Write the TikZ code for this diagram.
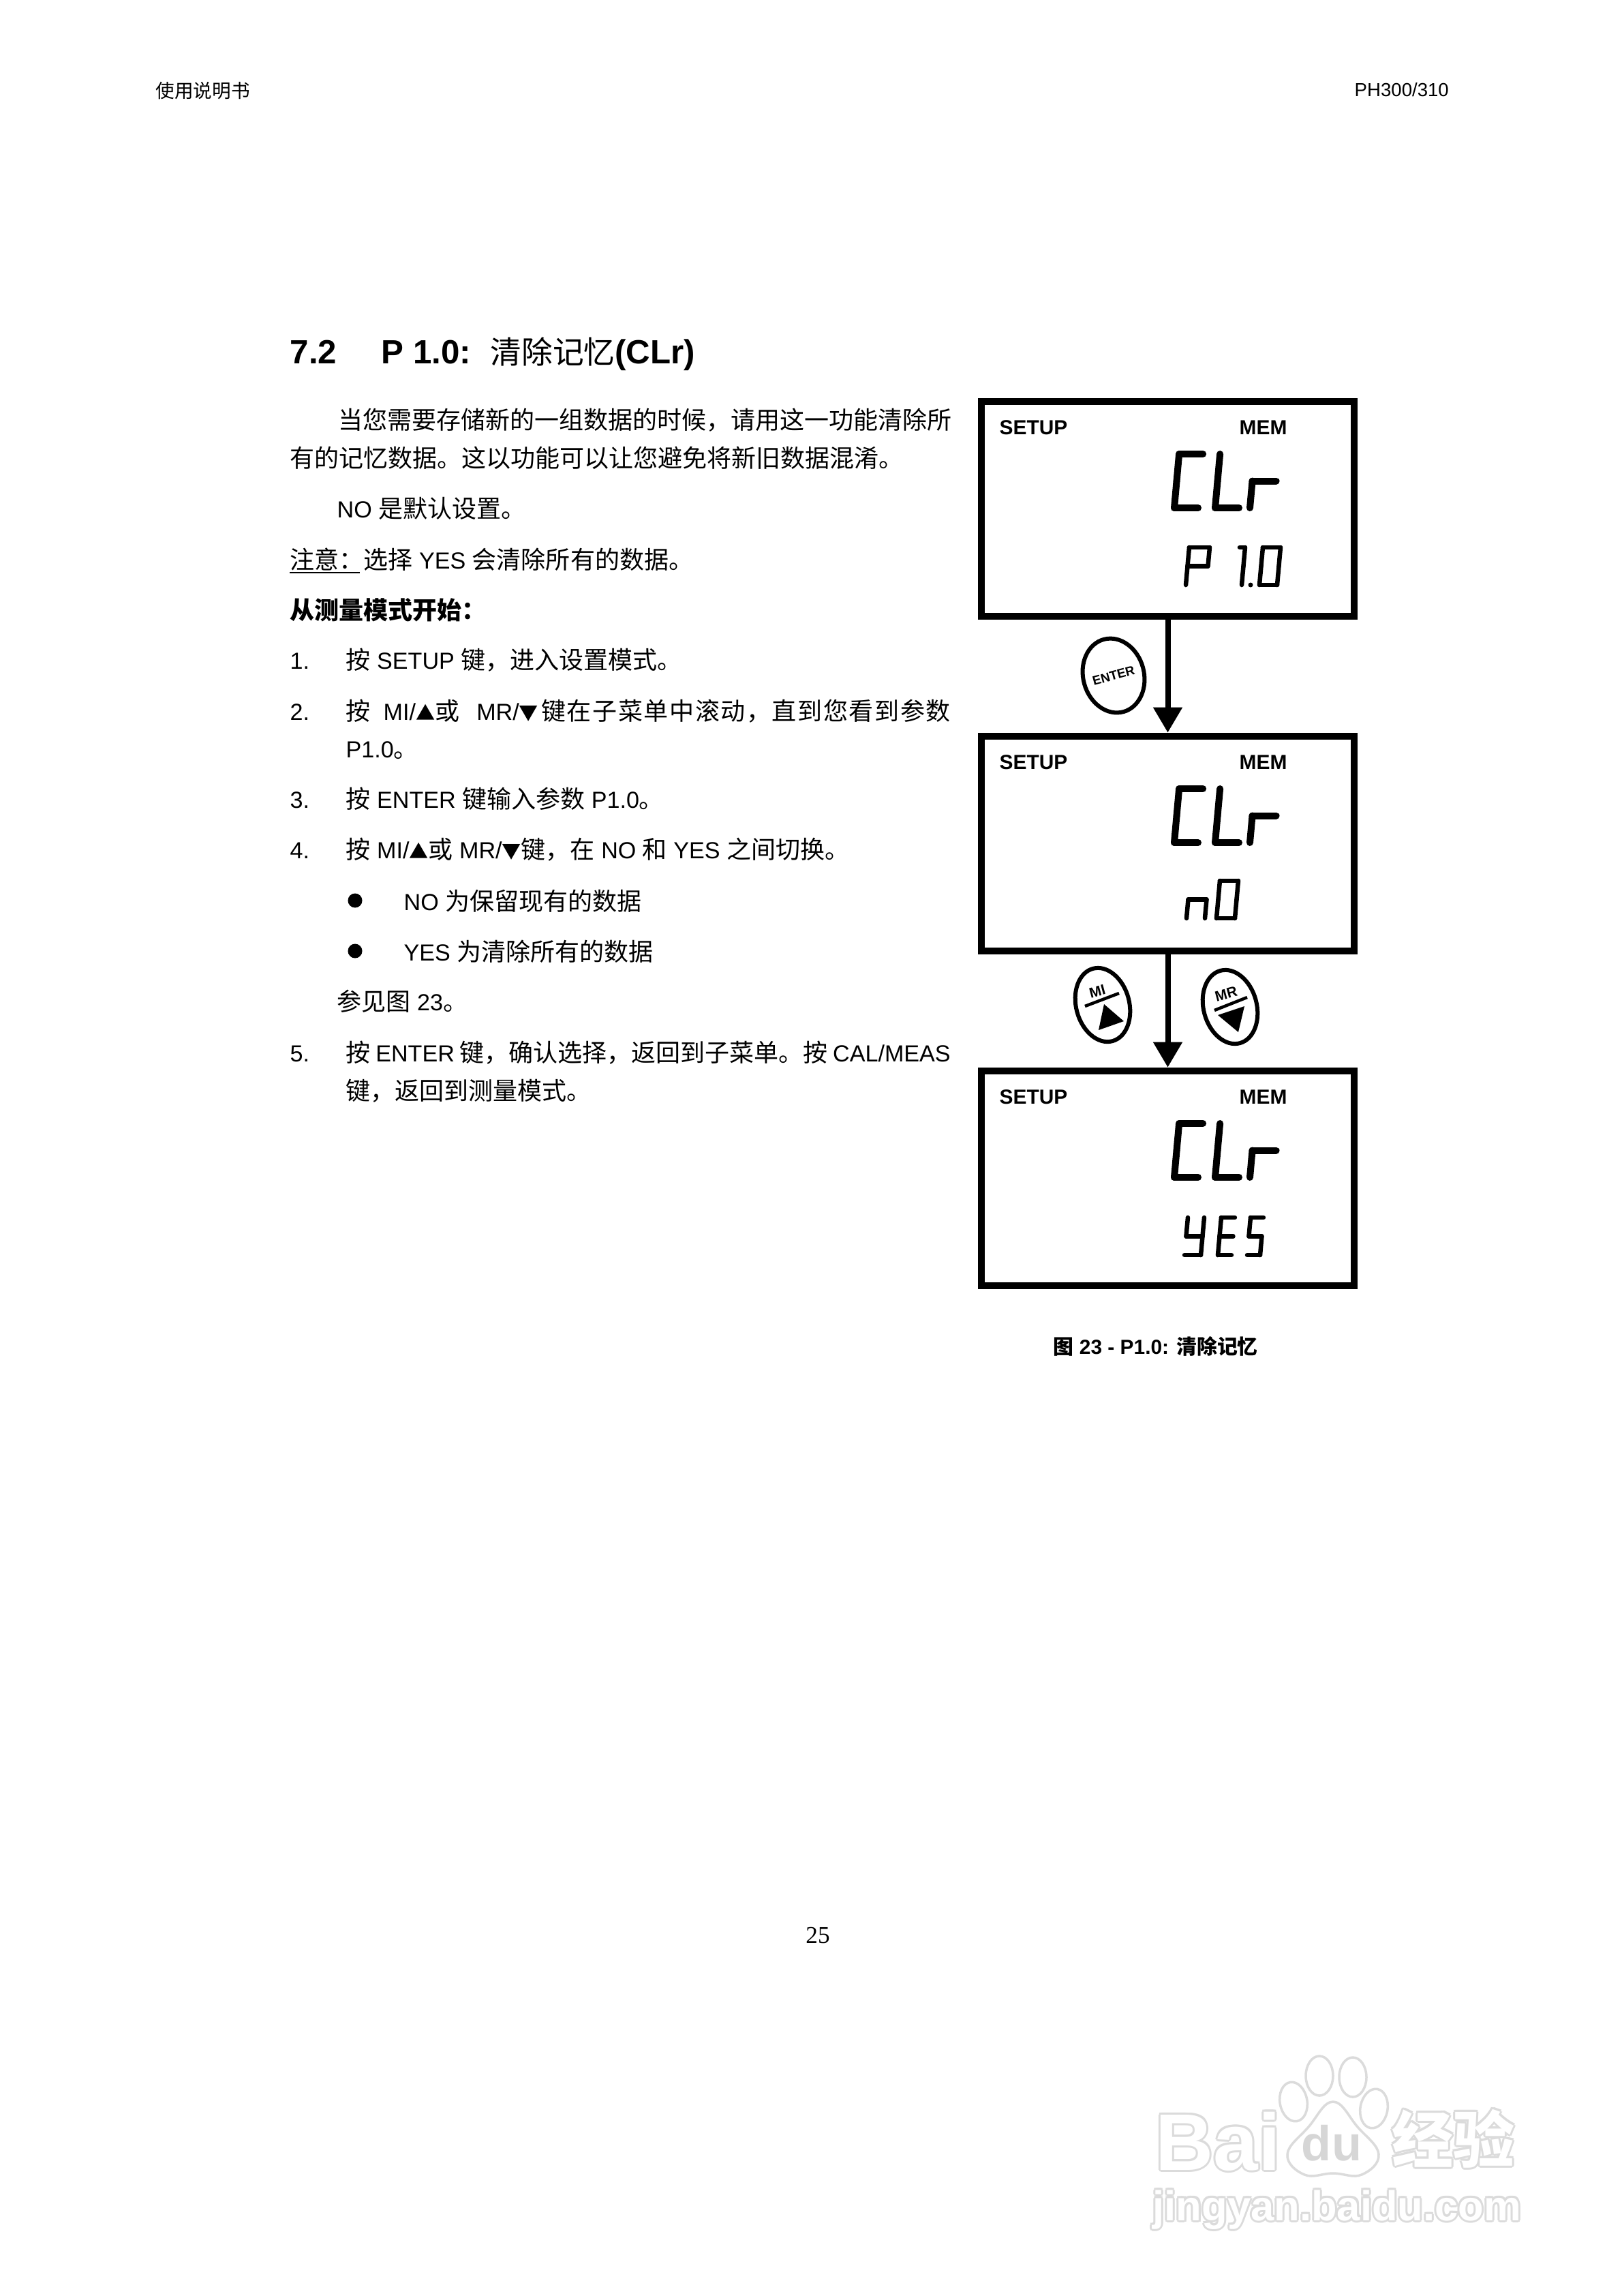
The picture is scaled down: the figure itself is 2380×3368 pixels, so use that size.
\documentclass[tikz,border=0pt]{standalone}
\usepackage{fontspec}
\setmainfont{Liberation Sans}
\newfontfamily\cjk{Noto Sans CJK SC}
\newfontfamily\cjkwide[LetterSpace=4.5]{Noto Sans CJK SC}
\newfontfamily\numfont{Liberation Serif}
\usetikzlibrary{calc}
\usetikzlibrary{arrows.meta}
\usetikzlibrary{shapes.geometric}
\def\zhsize{10.24}
\newcommand{\zh}[1]{{\cjk\fontsize{\zhsize}{12}\selectfont #1}}
\newcommand{\zhw}[1]{{\cjkwide\fontsize{\zhsize}{12}\selectfont #1}}
\newcommand{\upt}{{\cjk\fontsize{8}{8}\selectfont ▲}}
\newcommand{\dnt}{{\cjk\fontsize{8}{8}\selectfont ▼}}
\newcommand{\justline}[1]{\hbox to 8.865cm{#1}}
\tikzset{bodytext/.style={anchor=base west,inner sep=0pt,font=\fontsize{9.7}{12}\selectfont}}
\tikzset{titletext/.style={anchor=base west,inner sep=0pt,font=\def\zhsize{13}\fontsize{14}{16}\selectfont\bfseries}}
\tikzset{headtext/.style={anchor=base west,inner sep=0pt,font=\def\zhsize{7.85}\fontsize{7.85}{9}\selectfont}}
\tikzset{lcdtext/.style={anchor=base west,inner sep=0pt,font=\fontsize{8.5}{10}\selectfont\bfseries}}
\tikzset{lcdbox/.style={rectangle,draw=black,line width=0.105cm,minimum width=5.47cm,minimum height=3.15cm,inner sep=0pt}}
\tikzset{lcdseg/.style={line cap=round,line join=round,draw=black}}
\tikzset{flowarrow/.style={line width=0.08cm,-{Triangle[width=0.41cm,length=0.37cm]}}}
\tikzset{keybtn/.style={ellipse,draw=black,line width=0.06cm,minimum width=0.78cm,minimum height=1.1cm,inner sep=0pt,rotate=15}}
\tikzset{keytext/.style={inner sep=0pt,rotate=15,font=\fontsize{6}{7}\selectfont\bfseries}}
\tikzset{bulletdot/.style={circle,fill=black,inner sep=0pt,minimum size=0.21cm}}
\tikzset{wmtext/.style={anchor=base west,inner sep=0pt}}
\tikzset{wmshape/.style={draw=black!14,line width=0.035cm,fill=white}}
\def\segC{tl/tr,tl/ml,ml/bl,bl/br}
\def\segL{tl/ml,ml/bl,bl/br}
\def\segr{ml/mr,ml/bl}
\def\segP{tl/tr,tr/mr,ml/mr,tl/ml,ml/bl}
\def\segone{tl/tr,tr/mr,mr/br}
\def\segzero{tl/tr,tr/mr,mr/br,bl/br,ml/bl,tl/ml}
\def\segn{ml/mr,ml/bl,mr/br}
\def\segY{tl/ml,tr/mr,ml/mr,mr/br,bl/br}
\def\segE{tl/tr,tl/ml,ml/mr,ml/bl,bl/br}
\def\segS{tl/tr,tl/ml,ml/mr,mr/br,bl/br}
% x, y of the lower left corner, width, height, stroke, segments
\newcommand{\lcdchar}[6]{
 \begin{scope}[shift={(#1,#2)},xslant=0.09]
  \coordinate (tl) at (0,-#4);
  \coordinate (tr) at (#3,-#4);
  \coordinate (ml) at (0,-0.5*#4);
  \coordinate (mr) at (#3,-0.5*#4);
  \coordinate (bl) at (0,0);
  \coordinate (br) at (#3,0);
  \foreach \p/\q in #6
   {
   \draw[lcdseg,line width=#5*0.01cm] (\p) -- (\q);
   }
 \end{scope}
}
% top of the box
\newcommand{\lcdhead}[1]{
 \node[lcdbox] (lcd#1) at (1713.5,#1+162.5) {};
 \node[lcdtext] (setup#1) at (1466,#1+53) {SETUP};
 \node[lcdtext] (mem#1) at (1818,#1+53) {MEM};
 \lcdchar{1723}{#1+161}{35}{79}{10}{\segC}
 \lcdchar{1783}{#1+161}{35}{79}{10}{\segL}
 \lcdchar{1834}{#1+161}{35}{79}{10}{\segr}
}
% ring of grey copies with a white copy on top
\newcommand{\wmark}[5]{
 \foreach \ang in {0,45,...,315}
  {
  \pgfmathsetmacro{\x}{#2+3*cos(\ang)}
  \pgfmathsetmacro{\y}{#3+3*sin(\ang)}
  \node[wmtext,text=black!14,font=#4] (#1\ang) at (\x,\y) {#5};
  }
 \node[wmtext,text=white,font=#4] (#1) at (#2,#3) {#5};
}

\begin{document}
\begin{tikzpicture}[x=0.01cm,y=-0.01cm]
\useasboundingbox (0,0) rectangle (2380,3368);
\fill[white] (0,0) rectangle (2380,3368);

% page head and number
\node[headtext] (headleft) at (228,143) {\zh{使用说明书}};
\node[headtext] (headright) at (1987,141) {PH300/310};
\node[anchor=base,inner sep=0pt,font=\fontsize{10}{12}\numfont] (pagenum) at (1200,2850) {25};

% title
\node[titletext] (secnum) at (425,533) {7.2};
\node[titletext] (sectitle) at (559,533) {P 1.0:};
\node[titletext] (secname) at (719,533) {\zh{\mdseries 清除记忆}(CLr)};

% text column
\node[bodytext] (intro1) at (496,629) {\zh{当您需要存储新的一组数据的时候，请用这一功能清除所}};
\node[bodytext] (intro2) at (425,685) {\zh{有的记忆数据。这以功能可以让您避免将新旧数据混淆。}};
\node[bodytext] (nodefault) at (494,759) {NO \zh{是默认设置。}};
\node[bodytext] (note) at (425,834) {\zh{注意：选择} YES \zh{会清除所有的数据。}};
\coordinate (noteL) at (425,840);
\coordinate (noteR) at (528,840);
\draw[line width=0.025cm] (noteL) -- (noteR);
\node[bodytext,font=\fontsize{10.24}{12}\selectfont\bfseries] (fromm) at (425,908) {\zh{从测量模式开始：}};

\node[bodytext] (n1) at (425,981) {1.};
\node[bodytext] (s1) at (507,981) {\zh{按} SETUP \zh{键，进入设置模式。}};
\node[bodytext] (n2) at (425,1056) {2.};
\node[bodytext] (s2) at (507,1056) {\justline{\zh{按}\kern0.19cm MI/\upt\zh{或}\kern0.25cm MR/\dnt\hfil\zhw{键在子菜单中滚动，直到您看到参数}}};
\node[bodytext] (s2b) at (507,1111) {P1.0\zh{。}};
\node[bodytext] (n3) at (425,1185) {3.};
\node[bodytext] (s3) at (507,1185) {\zh{按} ENTER \zh{键输入参数} P1.0\zh{。}};
\node[bodytext] (n4) at (425,1259) {4.};
\node[bodytext] (s4) at (507,1259) {\zh{按} MI/\upt\zh{或} MR/\dnt\zh{键，在} NO \zh{和} YES \zh{之间切换。}};
\node[bulletdot] (b1) at (521,1321) {};
\node[bodytext] (s4a) at (592,1335) {NO \zh{为保留现有的数据}};
\node[bulletdot] (b2) at (521,1395) {};
\node[bodytext] (s4b) at (592,1409) {YES \zh{为清除所有的数据}};
\node[bodytext] (seefig) at (494,1482) {\zh{参见图} 23\zh{。}};
\node[bodytext] (n5) at (425,1557) {5.};
\node[bodytext] (s5) at (507,1557) {\justline{\zh{按} ENTER \zh{键，确认选择，返回到子菜单。按} CAL/MEAS}};
\node[bodytext] (s5b) at (507,1613) {\zh{键，返回到测量模式。}};

% displays
\lcdhead{584}
\lcdchar{1740}{858}{30}{55}{6.5}{\segP}
\lcdchar{1814}{858}{8}{55}{6.5}{\segone}
\lcdchar{1848}{858}{26}{55}{6.5}{\segzero}
\fill (1835,858) circle (0.035cm);

\lcdhead{1075}
\lcdchar{1741}{1347}{27}{55}{6.5}{\segn}
\lcdchar{1785}{1347}{27}{55}{6.5}{\segzero}

\lcdhead{1566}
\lcdchar{1738}{1841}{24}{55}{6.5}{\segY}
\lcdchar{1787}{1841}{20}{55}{6.5}{\segE}
\lcdchar{1830}{1841}{19}{55}{6.5}{\segS}

\draw[flowarrow] (lcd584) -- (lcd1075);
\draw[flowarrow] (lcd1075) -- (lcd1566);

% keys
\node[keybtn,font=\fontsize{5.3}{6}\selectfont\bfseries] (enterkey) at (1634,991) {ENTER};
\node[keybtn] (mikey) at (1618,1474) {};
\node[keytext] (milabel) at (1610,1454) {MI};
\coordinate (miL) at (1592,1476);
\coordinate (miR) at (1642,1457);
\draw[line width=0.045cm] (miL) -- (miR);
\fill (1612,1511) -- (1620,1473) -- (1649,1498) -- cycle;
\node[keybtn] (mrkey) at (1805,1477) {};
\node[keytext] (mrlabel) at (1799,1458) {MR};
\coordinate (mrL) at (1782,1482);
\coordinate (mrR) at (1830,1463);
\draw[line width=0.045cm] (mrL) -- (mrR);
\fill (1787,1489) -- (1826,1476) -- (1817,1514) -- cycle;

\node[anchor=base west,inner sep=0pt,font=\def\zhsize{8.5}\fontsize{8.5}{10}\selectfont\bfseries] (caption) at (1545,1986) {\zh{图} 23 - P1.0: \zh{清除记忆}};

% watermark
\wmark{bai}{1695}{3183}{\fontsize{33.5}{36}\selectfont\bfseries}{Bai}
\foreach \i/\xx/\yy/\tilt in {0/1898/3083/10,1/1936/3045/0,2/1985/3047/0,3/2016/3093/-10}
  {
 \node[wmshape,ellipse,minimum width=0.4cm,minimum height=0.58cm,inner sep=0pt,rotate=\tilt] (toe\i) at (\xx,\yy) {};
  }
\draw[wmshape] plot[smooth cycle,tension=0.7] coordinates {(1956,3083) (1992,3120) (2023,3160) (1998,3190) (1956,3188) (1914,3190) (1889,3160) (1920,3120)};
\node[anchor=center,inner sep=0pt,text=black!16,font=\fontsize{20.5}{22}\selectfont\bfseries] (padtext) at (1954,3144) {du};
\wmark{jing}{2042}{3172}{\fontsize{25.6}{28}\selectfont\bfseries\cjk}{经验}
\wmark{url}{1691}{3257}{\fontsize{17.5}{19}\selectfont\bfseries}{jingyan.baidu.com}

\end{tikzpicture}
\end{document}
